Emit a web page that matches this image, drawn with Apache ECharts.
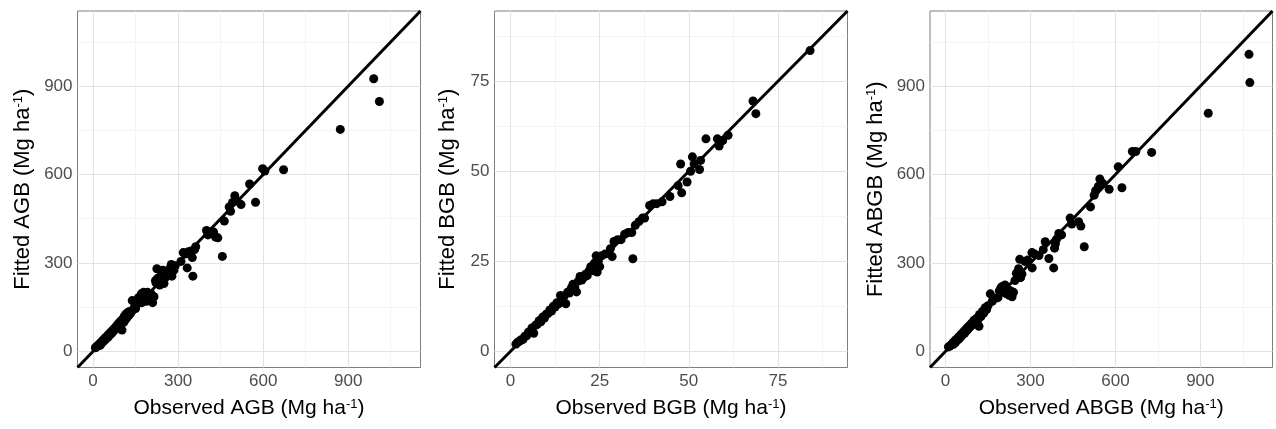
<!DOCTYPE html>
<html>
<head>
<meta charset="utf-8">
<title>Observed vs fitted biomass</title>
<script src="https://cdn.jsdelivr.net/npm/echarts@6/dist/echarts.min.js"></script>
<style>
  html, body { margin: 0; padding: 0; background: #fff; }
  #main { width: 1276px; height: 429px; }
</style>
</head>
<body>
<div id="main"></div>
<script>
// ---- data: [observed, fitted] (Mg ha-1) ----
var agbPoints = [
  [8,12],[12,15],[15,18],[18,20],[20,22],[22,25],[25,20],[28,30],[30,28],[32,35],[35,32],[38,40],
  [40,36],[42,45],[45,42],[48,50],[50,46],[52,55],[55,50],[58,60],[60,58],[62,65],[65,60],[68,70],
  [70,66],[72,75],[75,72],[78,80],[80,76],[82,85],[85,88],[88,82],[90,95],[92,88],[95,100],[98,92],
  [100,105],[102,72],[105,110],[108,98],[110,118],[112,105],[115,125],[118,112],[120,130],[125,120],
  [128,135],[132,128],[138,172],[140,140],[145,148],[150,145],[155,160],
  [160,182],[165,175],[170,195],[172,165],[175,190],[178,200],[180,175],[182,185],[185,195],[188,170],
  [190,180],[192,200],[195,185],[198,190],[200,175],[205,195],[208,180],[210,165],[215,185],[220,240],
  [222,232],[225,280],[228,248],[235,225],[240,270],[246,275],[250,230],[255,250],[262,265],[270,280],
  [276,295],[278,255],[285,275],[290,290],
  [310,305],[318,335],[325,330],[332,283],[336,338],[345,340],[350,318],[352,255],[358,345],[362,355],
  [400,410],[405,395],[415,400],[425,405],[432,388],[440,385],[456,322],[463,442],[480,490],[485,475],
  [492,505],[500,528],[508,510],[522,498],[552,568],[573,506],[598,620],[606,612],[672,616],[872,753],
  [990,925],[1010,848]
];
var bgbPoints = [
  [1.5,2],[2,2.5],[2.5,2.8],[3,3.2],[3.5,3.3],[4,4.2],[4.5,4.3],[5,5.3],[5.5,5.5],[6,6.5],[6.5,5],
  [7,7.2],[7.5,7.5],[8,8.5],[8.5,8.2],[9,9.5],[9.5,9.2],[10,10.3],[10.5,10.5],[11,11.5],[11.5,11.2],
  [12,12.5],[12.5,12.3],[13,13.5],[13.5,13.2],[14,15.5],[14.5,14.2],[15,15.3],[15.5,13.2],[16,16.4],
  [16.5,16.2],[17,17.5],[17.5,18.6],[18,17.8],[18.5,16.5],[19,19.5],[19.5,20.8],[20,19.8],[20.5,20.5],
  [21,21.4],[21.5,21],[22,22.3],[22.5,23.5],[23,22.4],[23.5,24.5],[24,26.5],[24.3,22],[24.6,25],
  [25,23.5],[25.5,26.5],[26.5,27],[28,28.5],[28.5,26.3],[29,30.5],[30,31],[31,31],[32,32.5],[33,33],
  [34,33],[34.3,25.7],[35,35],[36,36],[37,37],[37.6,37],[39,40.5],[40,41],[41,41],[42.5,41.5],
  [44.7,43],[47,46],[47.7,52],[48,44],[49.5,47],[50.5,50],[51,54],[51.5,52],[53,50.5],[53.3,53],
  [54.8,59],[58,59],[58.5,57],[59.5,58.5],[61,60],[68,69.5],[68.8,66],[84,83.5]
];
var abgbPoints = [
  [10,15],[15,18],[20,22],[25,28],[28,24],[32,35],[35,30],[38,40],[42,38],[45,48],[48,42],[52,55],
  [55,50],[58,60],[62,58],[65,68],[68,62],[72,75],[75,70],[78,82],[82,78],[85,88],[88,84],[92,95],
  [95,90],[100,105],[105,100],[110,112],[115,108],[118,85],[120,125],[125,118],[130,135],[135,130],
  [140,148],[145,142],[150,155],[158,195],[165,170],[175,180],[185,182],[190,205],[195,215],[200,220],
  [205,200],[210,225],[215,195],[220,210],[225,190],[230,205],[235,185],[240,200],[245,240],[250,265],
  [258,280],[262,312],[265,250],[270,262],[280,305],[290,310],[305,335],[306,283],[315,330],[330,325],
  [345,345],[352,372],[365,315],[382,283],[385,350],[388,365],[392,380],[400,400],[410,395],[440,452],
  [446,432],[470,440],[478,425],[490,355],[512,490],[525,530],[530,545],[540,560],[545,585],[555,570],
  [578,550],[610,626],[623,555],[660,678],[672,678],[728,675],[928,808],[1072,1008],[1075,912]
];

// axis limits and ticks
var bigRange = [-55, 1155];
var bigTicks = [0, 300, 600, 900];
var bigMinor = [150, 450, 750, 1050];
var bgbRange = [-4.5, 94.5];
var bgbTicks = [0, 25, 50, 75];
var bgbMinor = [12.5, 37.5, 62.5, 87.5];

var font = 'Liberation Sans, Arial, Helvetica, sans-serif';
var gray = '#7f7f7f';

function gridLines(major, minor) {
  var d = [];
  minor.forEach(function (v) {
    d.push({xAxis: v, lineStyle: {color: '#efefef', width: 0.7, type: 'solid'}});
    d.push({yAxis: v, lineStyle: {color: '#efefef', width: 0.7, type: 'solid'}});
  });
  major.forEach(function (v) {
    d.push({xAxis: v, lineStyle: {color: '#e3e3e3', width: 1.1, type: 'solid'}});
    d.push({yAxis: v, lineStyle: {color: '#e3e3e3', width: 1.1, type: 'solid'}});
  });
  return d;
}

function axis(idx, range, ticks, name, gap, size) {
  return {
    gridIndex: idx,
    type: 'value',
    min: range[0],
    max: range[1],
    axisLine: {show: false},
    axisTick: {show: true, length: 3, customValues: ticks, lineStyle: {color: gray, width: 1}},
    axisLabel: {customValues: ticks, color: '#4d4d4d', fontSize: 17, fontFamily: font, margin: 5},
    splitLine: {show: false},
    name: name,
    nameLocation: 'middle',
    nameGap: gap,
    nameTextStyle: {
      color: '#000', fontSize: size, fontFamily: font,
      rich: {sup: {fontSize: 13, fontFamily: font, color: '#000', verticalAlign: 'top'}}
    }
  };
}

var panels = [
  {left: 77.5, width: 343, range: bigRange, ticks: bigTicks, minor: bigMinor, key: 'AGB', ygap: 44, pts: agbPoints},
  {left: 494.5, width: 353, range: bgbRange, ticks: bgbTicks, minor: bgbMinor, key: 'BGB', ygap: 36, pts: bgbPoints},
  {left: 930, width: 342.5, range: bigRange, ticks: bigTicks, minor: bigMinor, key: 'ABGB', ygap: 43, pts: abgbPoints}
];

var option = {animation: false, grid: [], xAxis: [], yAxis: [], series: []};

panels.forEach(function (p, i) {
  option.grid.push({
    left: p.left, top: 11, width: p.width, height: 356.5,
    show: true, borderColor: gray, borderWidth: 1, backgroundColor: '#fff'
  });
  option.xAxis.push(axis(i, p.range, p.ticks, 'Observed ' + p.key + ' (Mg ha{sup|-1})', 30, 21));
  option.yAxis.push(axis(i, p.range, p.ticks, 'Fitted ' + p.key + ' (Mg ha{sup|-1})', p.ygap, 22));
  // background grid
  option.series.push({
    type: 'line', xAxisIndex: i, yAxisIndex: i, data: [], z: 1, silent: true,
    markLine: {silent: true, z: 1, symbol: ['none', 'none'], label: {show: false}, animation: false,
               data: gridLines(p.ticks, p.minor)}
  });
  // points
  option.series.push({
    type: 'scatter', xAxisIndex: i, yAxisIndex: i, data: p.pts, z: 3,
    symbolSize: 9, itemStyle: {color: '#000', opacity: 1}
  });
  // 1:1 line
  option.series.push({
    type: 'line', xAxisIndex: i, yAxisIndex: i, z: 4, symbol: 'none', silent: true,
    data: [[p.range[0], p.range[0]], [p.range[1], p.range[1]]],
    lineStyle: {color: '#000', width: 3}
  });
});

var myChart = echarts.init(document.getElementById('main'));
myChart.setOption(option);
</script>
</body>
</html>
